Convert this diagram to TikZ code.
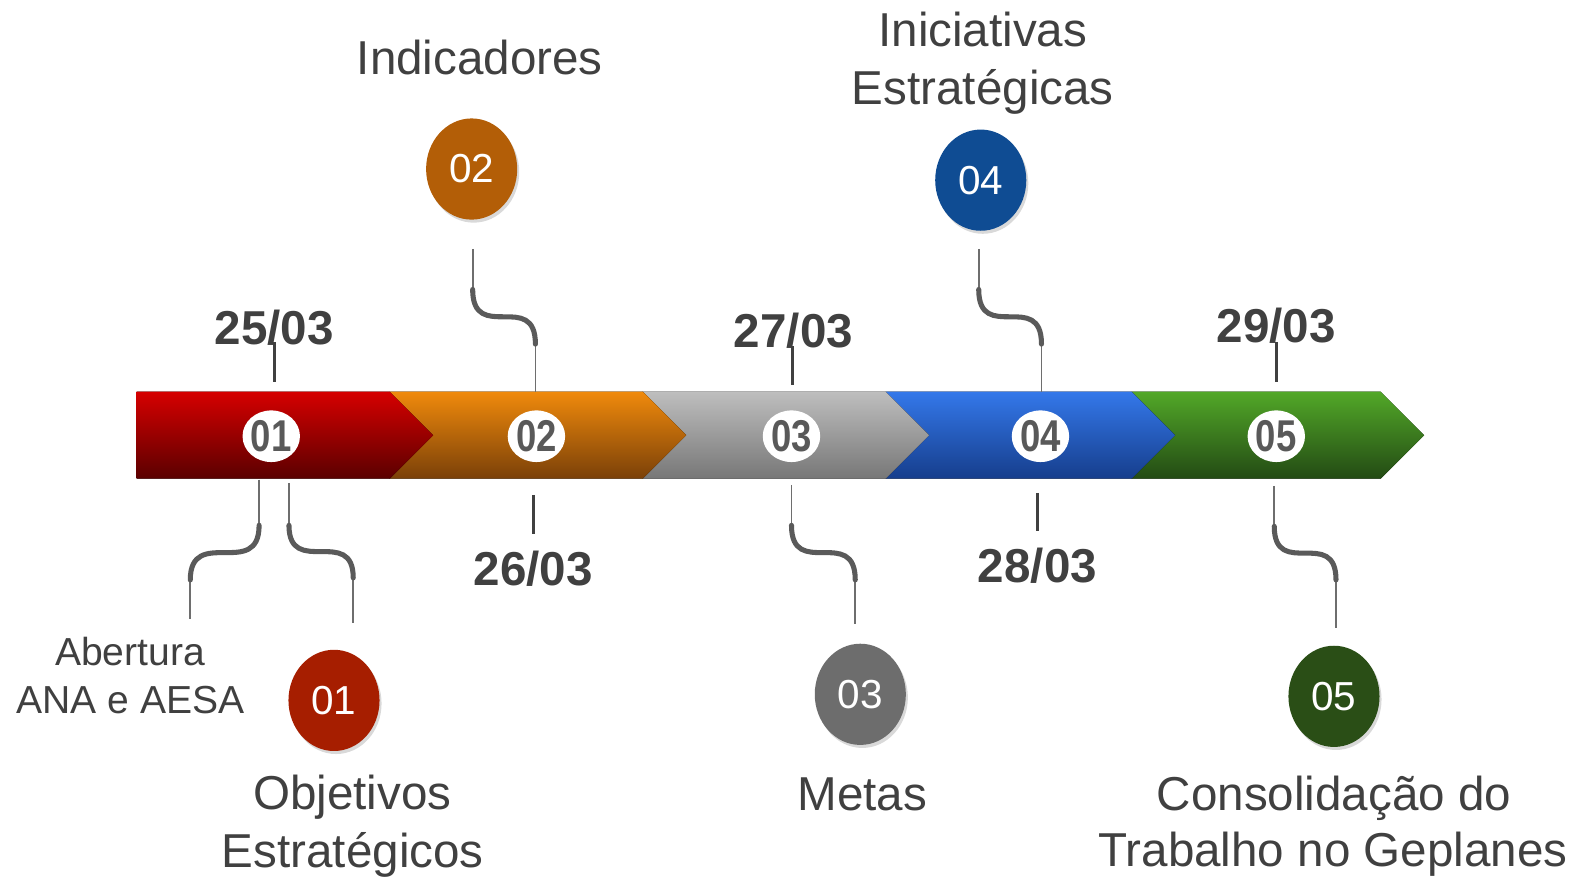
\documentclass[tikz,border=0pt]{standalone}
\usepackage{fontspec}
\setmainfont{Liberation Sans}
\usetikzlibrary{shadows,shapes.geometric,calc}
\definecolor{txt}{HTML}{404040}
\definecolor{numgray}{HTML}{595959}
\definecolor{conn}{HTML}{5A5A5A}
\definecolor{thinc}{HTML}{6E6E6E}
\definecolor{cA}{HTML}{A61E00}
\definecolor{cB}{HTML}{B35E07}
\definecolor{cC}{HTML}{6D6D6D}
\definecolor{cD}{HTML}{0F4C93}
\definecolor{cE}{HTML}{2A4E16}
\definecolor{rT}{HTML}{D60000}\definecolor{rB}{HTML}{5A0000}
\definecolor{oT}{HTML}{F08A0C}\definecolor{oB}{HTML}{7A4008}
\definecolor{gT}{HTML}{BEBEBE}\definecolor{gB}{HTML}{777777}
\definecolor{bT}{HTML}{3478EA}\definecolor{bB}{HTML}{163E8C}
\definecolor{vT}{HTML}{52A828}\definecolor{vB}{HTML}{234A14}
\newcommand\barlbl[1]{\scalebox{0.82}[1]{\fontsize{44}{44}\selectfont\bfseries #1}}
\tikzset{
  bigdot/.style={ellipse, fill=#1, minimum width=90pt, minimum height=100pt, inner sep=0pt,
    text=white, font=\fontsize{40}{40}\selectfont,
    drop shadow={shadow xshift=2pt, shadow yshift=-3pt, opacity=0.3}},
  bardot/.style={ellipse, fill=white, minimum width=46pt, minimum height=51pt, inner sep=0pt, text=numgray},
  datelbl/.style={font=\fontsize{47}{47}\selectfont\bfseries, text=txt, anchor=base, inner sep=0pt},
  biglbl/.style={font=\fontsize{47}{47}\selectfont, text=txt, anchor=base, inner sep=0pt},
  smalllbl/.style={font=\fontsize{38.6}{38.6}\selectfont, text=txt, anchor=base, inner sep=0pt},
  tick/.style={draw=txt, line width=3pt},
  thinline/.style={draw=thinc, line width=1.8pt},
  scurve/.style={draw=conn, line width=5pt, line cap=round},
}
\begin{document}
\begin{tikzpicture}[x=1pt,y=-1pt]
\useasboundingbox (0,0) rectangle (1568,866.5);

% bar segments (drawn right to left so each tip overlays the next one)
\fill[top color=vT, bottom color=vB] (1118,387) -- (1364,387) -- (1407,430) -- (1364,473) -- (1118,473) -- cycle;
\fill[top color=bT, bottom color=bB] (875,387) -- (1118,387) -- (1161,430) -- (1118,473) -- (875,473) -- cycle;
\fill[top color=gT, bottom color=gB] (635,387) -- (875,387) -- (918,430) -- (875,473) -- (635,473) -- cycle;
\fill[top color=oT, bottom color=oB] (385,387) -- (635,387) -- (678,430) -- (635,473) -- (385,473) -- cycle;
\fill[top color=rT, bottom color=rB] (135,387) -- (385,387) -- (428,430) -- (385,473) -- (135,473) -- cycle;

% bar numbers
\node[bardot] (b1) at (268,431) {\barlbl{01}};
\node[bardot] (b2) at (530,431) {\barlbl{02}};
\node[bardot] (b3) at (782,431) {\barlbl{03}};
\node[bardot] (b4) at (1028,431) {\barlbl{04}};
\node[bardot] (b5) at (1261,431) {\barlbl{05}};

% dates and ticks
\node[datelbl] (d1) at (271,340) {25/03};
\coordinate (t1a) at (271,338); \coordinate (t1b) at (271,377);
\draw[tick] (t1a) -- (t1b);
\node[datelbl] (d2) at (527,578) {26/03};
\coordinate (t2a) at (527,489); \coordinate (t2b) at (527,528);
\draw[tick] (t2a) -- (t2b);
\node[datelbl] (d3) at (784,343) {27/03};
\coordinate (t3a) at (783,342); \coordinate (t3b) at (783,380);
\draw[tick] (t3a) -- (t3b);
\node[datelbl] (d4) at (1025,576) {28/03};
\coordinate (t4a) at (1025,487); \coordinate (t4b) at (1025,525);
\draw[tick] (t4a) -- (t4b);
\node[datelbl] (d5) at (1261,338) {29/03};
\coordinate (t5a) at (1261,338); \coordinate (t5b) at (1261,377);
\draw[tick] (t5a) -- (t5b);

% big circles
\node[bigdot=cA] (n1) at (330,692) {01};
\node[bigdot=cB] (n2) at (466,167) {02};
\node[bigdot=cC] (n3) at (850,686) {03};
\node[bigdot=cD] (n4) at (969,178) {04};
\node[bigdot=cE] (n5) at (1318,688) {05};

% labels
\node[biglbl] (l2) at (474,74) {Indicadores};
\node[biglbl] (l4a) at (971,46) {Iniciativas};
\node[biglbl] (l4b) at (971,103) {Estratégicas};
\node[smalllbl] (l0a) at (128.5,658) {Abertura};
\node[smalllbl] (l0b) at (129,704.5) {ANA e AESA};
\node[biglbl] (l1a) at (348,800) {Objetivos};
\node[biglbl] (l1b) at (348.5,857.5) {Estratégicos};
\node[biglbl] (l3) at (852,801) {Metas};
\node[biglbl] (l5a) at (1318,801) {Consolidação do};
\node[biglbl] (l5b) at (1317,856) {Trabalho no Geplanes};

% connectors: thin - S - thin
\foreach \n/\xa/\ya/\yb/\xc/\yc/\yd in {
  2/467/246/286/529/340/387,
  4/967/246/286/1029/340/387,
  6/256/474/519/188/573/612,
  7/285.5/477/519/349/571/616,
  3/782/479/519/845/573/617,
  5/1259/480/520/1320/573/620}{
  \coordinate (k\n a) at (\xa,\ya);
  \coordinate (k\n b) at (\xa,\yb);
  \coordinate (k\n c) at (\xc,\yc);
  \coordinate (k\n d) at (\xc,\yd);
  \draw[thinline] (k\n a) -- (k\n b);
  \draw[thinline] (k\n c) -- (k\n d);
  \draw[scurve] (k\n b) .. controls (k\n b |- k\n c) and (k\n c |- k\n b) .. (k\n c);
}
\end{tikzpicture}
\end{document}
